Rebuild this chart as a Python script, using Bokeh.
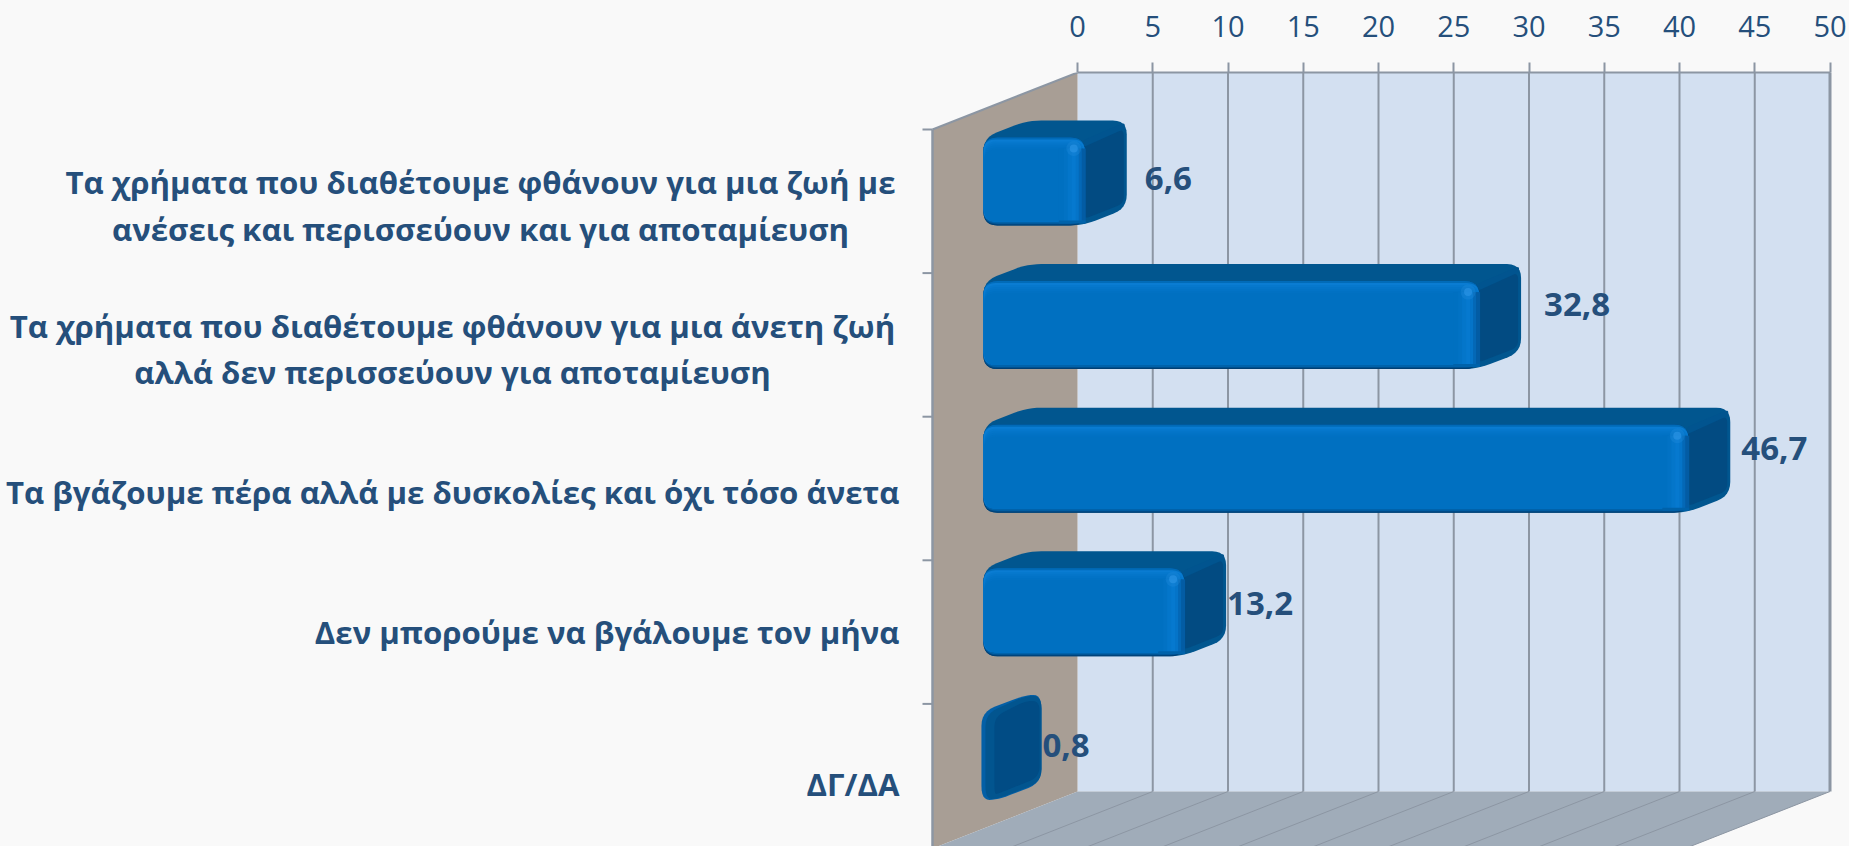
from bokeh.plotting import figure
from bokeh.models import Range1d, LinearAxis, FixedTicker, ColumnDataSource
from bokeh.core.properties import value
from bokeh.embed import file_html
from bokeh.resources import INLINE

categories = [
    "Τα χρήματα που διαθέτουμε φθάνουν για μια ζωή με\nανέσεις και περισσεύουν και για αποταμίευση",
    "Τα χρήματα που διαθέτουμε φθάνουν για μια άνετη ζωή\nαλλά δεν περισσεύουν για αποταμίευση",
    "Τα βγάζουμε πέρα αλλά με δυσκολίες και όχι τόσο άνετα",
    "Δεν μπορούμε να βγάλουμε τον μήνα",
    "ΔΓ/ΔΑ",
]
values = [6.6, 32.8, 46.7, 13.2, 0.8]
value_labels = ["6,6", "32,8", "46,7", "13,2", "0,8"]
x_ticks = list(range(0, 51, 5))

# style: manual placement of labels, px
cat_x_px = [480, 452, 0, 0, 0]
cat_dy_px = [24, 24, 23, 20, 28]
lab_dx_px = [62, 67, 55, 45, 47]
lab_dy_px = [-3, -21, -20, -9, -10]

W_PAGE, H_PAGE = 1849, 846
PX_X, PX_Y = 15.05, 143.6
ORIGIN_X, ORIGIN_Y = 1077, 181      # canvas px of value 0 / category 0
TOP_PX = 72

INK = "#254F7B"
BG = "#F9F9F9"
GRID = "#8C96A3"
FONT = "Open Sans"

def xd(px):
    return (px - ORIGIN_X) / PX_X

def yd(px):
    return (px - ORIGIN_Y) / PX_Y

p = figure(width=W_PAGE, height=H_PAGE, output_backend="svg", toolbar_location=None,
           x_range=Range1d(xd(0), xd(W_PAGE)), y_range=Range1d(yd(H_PAGE), yd(TOP_PX)),
           x_axis_location=None, y_axis_location=None,
           min_border_left=0, min_border_right=0, min_border_bottom=0, min_border_top=TOP_PX)
p.background_fill_color = BG
p.border_fill_color = None
p.styles = {"background-color": BG}
p.outline_line_color = None
p.grid.visible = False

# chart box: back wall, side wall, floor
BACK_TOP = yd(72)
BACK_BOT = yd(791)
DEPTH_X = 145 / PX_X
DEPTH_Y = 57 / PX_Y

p.quad(left=0, right=50, top=BACK_TOP, bottom=BACK_BOT, fill_color="#D3E0F1", line_color=None)
p.patch([0, 0, -DEPTH_X, -DEPTH_X],
        [BACK_TOP, BACK_BOT, BACK_BOT + DEPTH_Y, BACK_TOP + DEPTH_Y],
        fill_color="#A89E95", line_color=None)
p.patch([0, 50, 50 - DEPTH_X, -DEPTH_X],
        [BACK_BOT, BACK_BOT, BACK_BOT + DEPTH_Y, BACK_BOT + DEPTH_Y],
        fill_color="#A0ACB9", line_color=None)

p.segment(x0=x_ticks[1:-1], x1=x_ticks[1:-1], y0=[BACK_TOP] * 9, y1=[BACK_BOT] * 9,
          line_color=GRID, line_width=2)
p.segment(x0=[50], x1=[50], y0=[BACK_TOP], y1=[BACK_BOT], line_color=GRID, line_width=3)
p.segment(x0=x_ticks[1:], x1=[t - DEPTH_X for t in x_ticks[1:]],
          y0=[BACK_BOT] * 10, y1=[BACK_BOT + DEPTH_Y] * 10, line_color="#8C96A3", line_width=1)
# side wall edges and its category ticks
p.line([-DEPTH_X, 0], [BACK_TOP + DEPTH_Y, BACK_TOP], line_color=GRID, line_width=2)
p.line([-DEPTH_X, -DEPTH_X], [BACK_TOP + DEPTH_Y, BACK_BOT + DEPTH_Y], line_color=GRID, line_width=2.5)
tick_y = [i + BACK_TOP + DEPTH_Y for i in range(len(categories))]
p.segment(x0=[-DEPTH_X - 10 / PX_X] * 5, x1=[-DEPTH_X] * 5, y0=tick_y, y1=tick_y,
          line_color=GRID, line_width=2)

# rounded polygons
def rounded(pts, r):
    out = []
    n = len(pts)
    for k in range(n):
        x0, y0 = pts[k - 1]
        x1, y1 = pts[k]
        x2, y2 = pts[(k + 1) % n]
        a = ((x0 - x1) ** 2 + (y0 - y1) ** 2) ** 0.5
        b = ((x2 - x1) ** 2 + (y2 - y1) ** 2) ** 0.5
        ra = min(r, a / 2) / a if a else 0
        rb = min(r, b / 2) / b if b else 0
        sx, sy = x1 + (x0 - x1) * ra, y1 + (y0 - y1) * ra
        ex, ey = x1 + (x2 - x1) * rb, y1 + (y2 - y1) * rb
        for s in range(7):
            t = s / 6
            out.append(((1 - t) ** 2 * sx + 2 * t * (1 - t) * x1 + t ** 2 * ex,
                        (1 - t) ** 2 * sy + 2 * t * (1 - t) * y1 + t ** 2 * ey))
    return out

BAR_X0 = -6.25      # bars stand in front of the back wall
H, DX, DY = 44, 44, 17
layers = []

def add(i, pts, r, color):
    poly = rounded(pts, r)
    layers.append(([BAR_X0 + q[0] / PX_X for q in poly], [i + q[1] / PX_Y for q in poly], color))

def rect(i, l, t, r_, b, r, color):
    add(i, [(l, t), (r_, t), (r_, b), (l, b)], r, color)

TOP_FADE = ["#0A7CD2", "#0678CD", "#0475C9", "#0273C6", "#0171C3", "#0070C1"]
RIGHT_STEPS = [(-24, "#0070C1"), (-19, "#0272C4"), (-15, "#0476CA"), (-11, "#0679CF"),
               (-7, "#0574C8"), (-4, "#0468B6"), (-1, "#035CA4"), (2, "#02528F")]

for i, v in enumerate(values):
    w = v * PX_X
    if w > 30:
        # silhouette rim, top face, side face
        add(i, [(0, -H), (DX, -H - DY), (w + DX, -H - DY), (w + DX, H - DY), (w, H), (0, H)], 14, "#01568F")
        add(i, [(w, -H + 6), (w + DX - 3, -H - DY + 8), (w + DX - 3, H - DY - 5), (w, H - 6)], 7, "#024B82")
        add(i, [(w, -H + 3), (w + DX - 2, -H - DY + 2), (w + DX - 2, -H - DY + 8), (w, -H + 10)], 4, "#01548F")
        # front face
        rect(i, 0, -H, w + 2, H, 14, "#003F73")
        rect(i, 0, -H, w + 2, H - 1, 14, "#00508F")
        rect(i, 0, -H, w + 2, H - 2, 14, "#0062AA")
        rect(i, 0, -H, w + 2, H - 4, 14, "#016BB8")
        for k, c in enumerate(TOP_FADE):
            rect(i, 0 if k == 0 else 1, -H + 2 + 2 * k, w + 2, H - 4, 12, c)
        for (a, c), (b, _) in zip(RIGHT_STEPS, RIGHT_STEPS[1:]):
            rect(i, w + a, -H + 11, w + b + 1, H - 4, 0, c)
        # lower edge of the strip follows the bottom shade
        rect(i, w - 24, H - 5, w + 3, H - 2, 1, "#0062AA")
    else:
        # a very short bar shows little more than its end cap
        x0, x1 = -2, w + 2
        add(i, [(x0, -H), (x0 + DX, -H - DY), (x1 + DX, -H - DY), (x1 + DX, H - DY), (x1, H), (x0, H)], 14, "#035FA6")
        add(i, [(x0 + 4, -H + 2), (x0 + DX, -H - DY + 1), (x1 + DX, -H - DY + 1),
                (x1 + DX, H - DY - 1), (x1, H - 1), (x0 + 4, H - 1)], 13, "#02558F")
        add(i, [(x0 + 13, -H + 5), (x0 + DX, -H - DY + 6), (x1 + DX - 2, -H - DY + 6),
                (x1 + DX - 2, H - DY - 6), (x1, H - 6), (x0 + 13, H - 6)], 10, "#014C85")

p.patches([l[0] for l in layers], [l[1] for l in layers], fill_color=[l[2] for l in layers], line_color=None)
hi_x = [BAR_X0 + v - 9 / PX_X for v in values if v > 2]
hi_y = [i - (H - 11) / PX_Y for i, v in enumerate(values) if v > 2]
p.scatter(hi_x, hi_y, size=15, fill_color="#2A93E4", line_color=None, fill_alpha=0.25)
p.scatter(hi_x, hi_y, size=8, fill_color="#2A93E4", line_color=None, fill_alpha=0.7)

# top value axis
axis = LinearAxis(ticker=FixedTicker(ticks=x_ticks), bounds=(0, 50))
axis.axis_line_color = GRID
axis.axis_line_width = 2
axis.major_tick_line_color = GRID
axis.major_tick_line_width = 2
axis.major_tick_out = 10
axis.major_tick_in = 0
axis.minor_tick_line_color = None
axis.major_label_standoff = 26
axis.major_label_text_font = FONT
axis.major_label_text_font_size = "29px"
axis.major_label_text_color = INK
p.add_layout(axis, "above")

# category labels
double = [i for i, x in enumerate(cat_x_px) if x != 0]
right = [i for i, x in enumerate(cat_x_px) if x == 0]
p.text(x=[xd(cat_x_px[i]) for i in double],
       y=[i + cat_dy_px[i] / PX_Y for i in double],
       text=[categories[i] for i in double],
       text_font=value(FONT), text_font_style="bold", text_font_size="31.2px",
       text_color=INK, text_align="center", text_baseline="middle", text_line_height=1.11)
p.text(x=[xd(899)] * len(right), y=[i + cat_dy_px[i] / PX_Y for i in right],
       text=[categories[i] for i in right],
       text_font=value(FONT), text_font_style="bold", text_font_size="31.2px",
       text_color=INK, text_align="right", text_baseline="middle")

# value labels
src = ColumnDataSource(dict(x=[BAR_X0 + v for v in values], y=list(range(5)), t=value_labels,
                            dx=lab_dx_px, dy=lab_dy_px))
p.text(x="x", y="y", text="t", x_offset="dx", y_offset="dy", source=src,
       text_font=value(FONT), text_font_style="bold", text_font_size="33px",
       text_color=INK, text_align="left", text_baseline="middle")

open("out.html", "w").write(file_html(p, INLINE))
